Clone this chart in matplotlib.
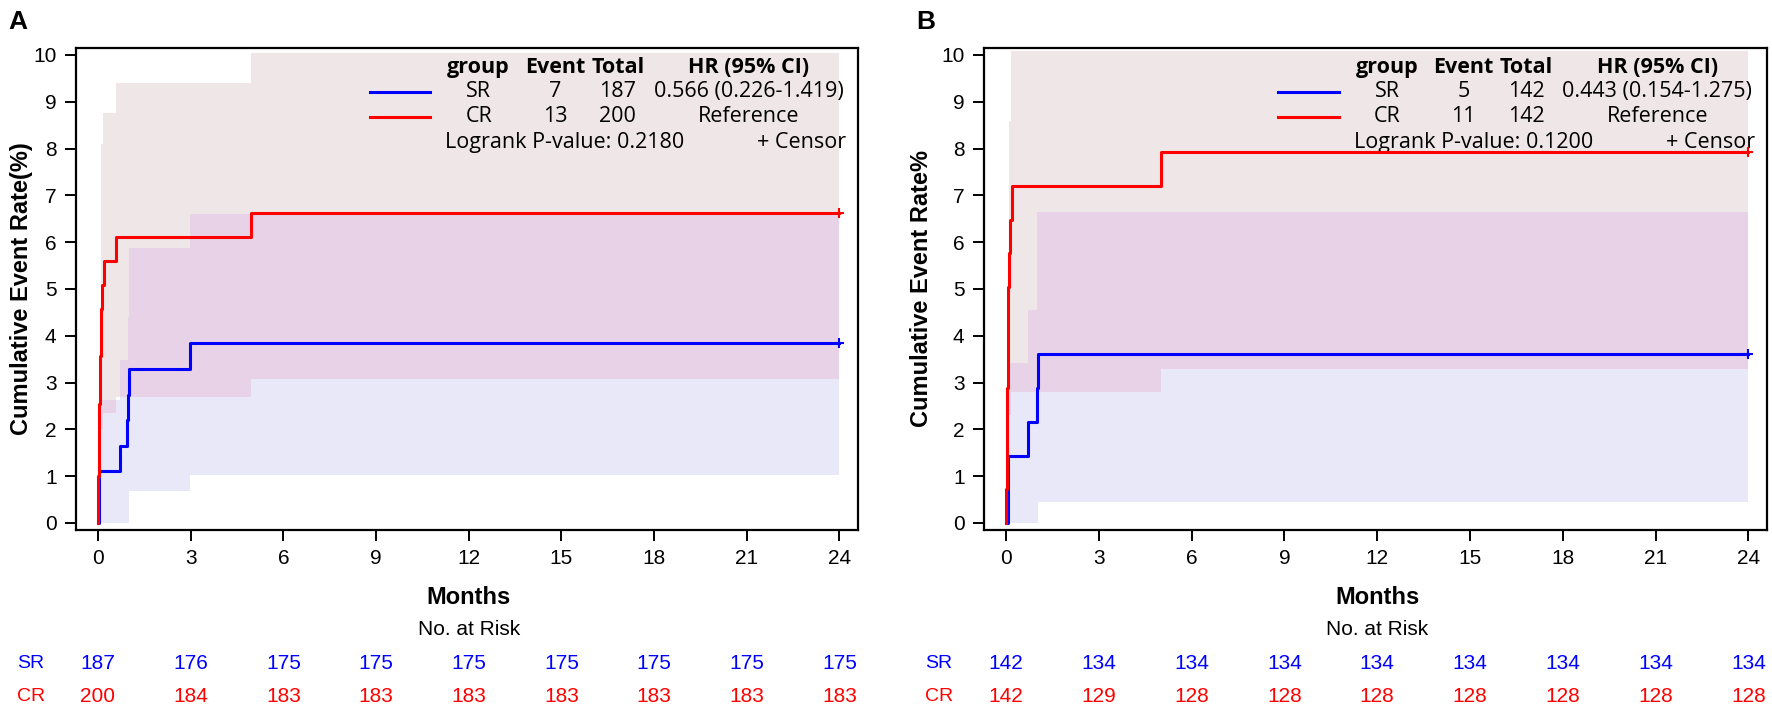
import numpy as np
import matplotlib
matplotlib.use('Agg')
import matplotlib.pyplot as plt

plt.rcParams['font.family'] = ['Liberation Sans', 'DejaVu Sans']

# ---- panel A : curves (months, cumulative event rate %) ----
a_sr_t = [0, 0.02, 0.05, 0.72, 0.95, 0.98, 1.02, 2.98, 24]
a_sr_v = [0, 0.53, 1.10, 1.64, 2.19, 2.74, 3.30, 3.85, 3.85]
a_cr_t = [0, 0.00, 0.01, 0.02, 0.03, 0.04, 0.06, 0.07, 0.09, 0.10, 0.12, 0.20, 0.60, 4.95, 24]
a_cr_v = [0, 0.50, 1.01, 1.52, 2.03, 2.54, 3.05, 3.56, 4.07, 4.58, 5.09, 5.60, 6.11, 6.62, 6.62]

# panel A : confidence bands
a_sr_band_t = [0.03, 0.72, 0.96, 1.01, 2.98, 24]
a_sr_lo = [0, 0, 0, 0.68, 1.02, 1.02]
a_sr_hi = [2.62, 3.48, 4.40, 5.87, 6.60, 6.60]
a_cr_band_t = [0.10, 0.17, 0.60, 4.95, 24]
a_cr_lo = [2.00, 2.35, 2.70, 3.08, 3.08]
a_cr_hi = [8.10, 8.76, 9.41, 10.04, 10.04]

# ---- panel B ----
b_sr_t = [0, 0.05, 0.08, 0.72, 0.99, 1.05, 24]
b_sr_v = [0, 0.72, 1.44, 2.16, 2.88, 3.60, 3.60]
b_cr_t = [0, 0.00, 0.02, 0.03, 0.04, 0.05, 0.06, 0.08, 0.10, 0.13, 0.18, 5.0, 24]
b_cr_v = [0, 0.72, 1.44, 2.16, 2.88, 3.60, 4.32, 5.04, 5.76, 6.48, 7.20, 7.92, 7.92]

b_sr_band_t = [0.05, 0.72, 0.99, 1.03, 24]
b_sr_lo = [0, 0, 0, 0.45, 0.45]
b_sr_hi = [3.41, 4.55, 6.65, 6.65, 6.65]
b_cr_band_t = [0.10, 0.15, 5.0, 24]
b_cr_lo = [2.30, 2.80, 3.30, 3.30]
b_cr_hi = [8.58, 10.09, 10.09, 10.09]

# legend table
groups = ['SR', 'CR']
a_events = ['7', '13']
a_total = ['187', '200']
a_hr = ['0.566 (0.226-1.419)', 'Reference']
a_pval = '0.2180'
b_events = ['5', '11']
b_total = ['142', '142']
b_hr = ['0.443 (0.154-1.275)', 'Reference']
b_pval = '0.1200'

# number at risk
risk_times = [0, 3, 6, 9, 12, 15, 18, 21, 24]
a_risk_sr = [187, 176, 175, 175, 175, 175, 175, 175, 175]
a_risk_cr = [200, 184, 183, 183, 183, 183, 183, 183, 183]
b_risk_sr = [142, 134, 134, 134, 134, 134, 134, 134, 134]
b_risk_cr = [142, 129, 128, 128, 128, 128, 128, 128, 128]

BLUE = '#0000FF'
RED = '#FF0000'
C_RED_BAND = '#EFE7E7'
C_BLUE_BAND = '#E8E8F8'
C_OVERLAP = '#E8D2E8'
LEG_FONT = ['Open Sans', 'DejaVu Sans']


def step_at(t, v, x):
    i = np.searchsorted(t, x, side='right') - 1
    if i < 0:
        return np.nan
    return v[i]


def draw_bands(ax, sr_t, sr_lo, sr_hi, cr_t, cr_lo, cr_hi):
    ax.fill_between(cr_t, cr_lo, cr_hi, step='post', color=C_RED_BAND, lw=0, zorder=1)
    ax.fill_between(sr_t, sr_lo, sr_hi, step='post', color=C_BLUE_BAND, lw=0, zorder=1)
    # overlap of the two bands
    grid = sorted(set(sr_t) | set(cr_t))
    for k in range(len(grid) - 1):
        x0, x1 = grid[k], grid[k + 1]
        lo = max(step_at(sr_t, sr_lo, x0), step_at(cr_t, cr_lo, x0))
        hi = min(step_at(sr_t, sr_hi, x0), step_at(cr_t, cr_hi, x0))
        if np.isfinite(lo) and np.isfinite(hi) and hi > lo:
            ax.fill_between([x0, x1], [lo, lo], [hi, hi], color=C_OVERLAP, lw=0, zorder=2)


def draw_panel(ax, letter, ylabel, ylab_x, sr, cr, bands, events, total, hr, pval,
               risk_sr, risk_cr, fig):
    draw_bands(ax, *bands)
    ax.plot(sr[0], sr[1], drawstyle='steps-post', color=BLUE, lw=2.2, zorder=4)
    ax.plot(cr[0], cr[1], drawstyle='steps-post', color=RED, lw=2.2, zorder=4)
    ax.plot([sr[0][-1]], [sr[1][-1]], '+', color=BLUE, ms=7, mew=1.5, zorder=5)
    ax.plot([cr[0][-1]], [cr[1][-1]], '+', color=RED, ms=7, mew=1.5, zorder=5)

    ax.set_xlim(-0.71, 24.6)
    ax.set_ylim(-0.15, 10.15)
    ax.set_xticks(range(0, 25, 3))
    ax.set_yticks(range(0, 11))
    ax.tick_params(direction='out', length=8, width=1.4, labelsize=15, pad=6)
    for s in ax.spines.values():
        s.set_linewidth(1.6)
    ax.set_ylabel(ylabel, fontsize=17, fontweight='bold')
    ax.yaxis.set_label_coords(ylab_x, 0.5)

    # legend table
    tr = ax.transAxes
    ys = [0.9585, 0.9087, 0.8568, 0.803]
    cols = [0.515, 0.6125, 0.693, 0.860]
    heads = ['group', 'Event', 'Total', 'HR (95% CI)']
    for x, h in zip(cols, heads):
        ax.text(x, ys[0], h, transform=tr, ha='center', va='center',
                fontsize=15.5, fontweight='bold', family=LEG_FONT)
    colors = [BLUE, RED]
    for r in range(2):
        y = ys[r + 1]
        ax.plot([0.376, 0.453], [y, y], transform=tr, color=colors[r], lw=2.2, clip_on=False)
        for x, s in zip(cols, [groups[r], events[r], total[r], hr[r]]):
            ax.text(x, y, s, transform=tr, ha='center', va='center',
                    fontsize=15.5, family=LEG_FONT)
    ax.text(0.472, ys[3], 'Logrank P-value: ' + pval, transform=tr, ha='left',
            va='center', fontsize=15.5, family=LEG_FONT)
    ax.text(0.985, ys[3], '+ Censor', transform=tr, ha='right', va='center',
            fontsize=15.5, family=LEG_FONT)

    # panel letter
    pos = ax.get_position()
    fig.text(pos.x0 - 0.033, 0.969, letter, fontsize=19, fontweight='bold',
             ha='center', va='center')

    # axis title and risk table
    bt = matplotlib.transforms.blended_transform_factory(ax.transData, fig.transFigure)
    ax.text(12, 0.159, 'Months', transform=bt, ha='center', va='center',
            fontsize=17, fontweight='bold')
    ax.text(12, 0.114, 'No. at Risk', transform=bt, ha='center', va='center', fontsize=15)
    for t, n1, n2 in zip(risk_times, risk_sr, risk_cr):
        ax.text(t, 0.0675, str(n1), transform=bt, ha='center', va='center',
                fontsize=15, color=BLUE)
        ax.text(t, 0.0197, str(n2), transform=bt, ha='center', va='center',
                fontsize=15, color=RED)
    fig.text(pos.x0 - 0.0255, 0.0675, 'SR', ha='center', va='center', fontsize=14, color=BLUE)
    fig.text(pos.x0 - 0.0255, 0.0197, 'CR', ha='center', va='center', fontsize=14, color=RED)


fig = plt.figure(figsize=(17.72, 7.11), dpi=100)
axA = fig.add_axes([0.0429, 0.2546, 0.4413, 0.678])
axB = fig.add_axes([0.5553, 0.2546, 0.4419, 0.678])

draw_panel(axA, 'A', 'Cumulative Event Rate(%)', -0.055, (a_sr_t, a_sr_v), (a_cr_t, a_cr_v),
           (a_sr_band_t, a_sr_lo, a_sr_hi, a_cr_band_t, a_cr_lo, a_cr_hi),
           a_events, a_total, a_hr, a_pval, a_risk_sr, a_risk_cr, fig)
draw_panel(axB, 'B', 'Cumulative Event Rate%', -0.065, (b_sr_t, b_sr_v), (b_cr_t, b_cr_v),
           (b_sr_band_t, b_sr_lo, b_sr_hi, b_cr_band_t, b_cr_lo, b_cr_hi),
           b_events, b_total, b_hr, b_pval, b_risk_sr, b_risk_cr, fig)

fig.savefig('out.png', dpi=100)
